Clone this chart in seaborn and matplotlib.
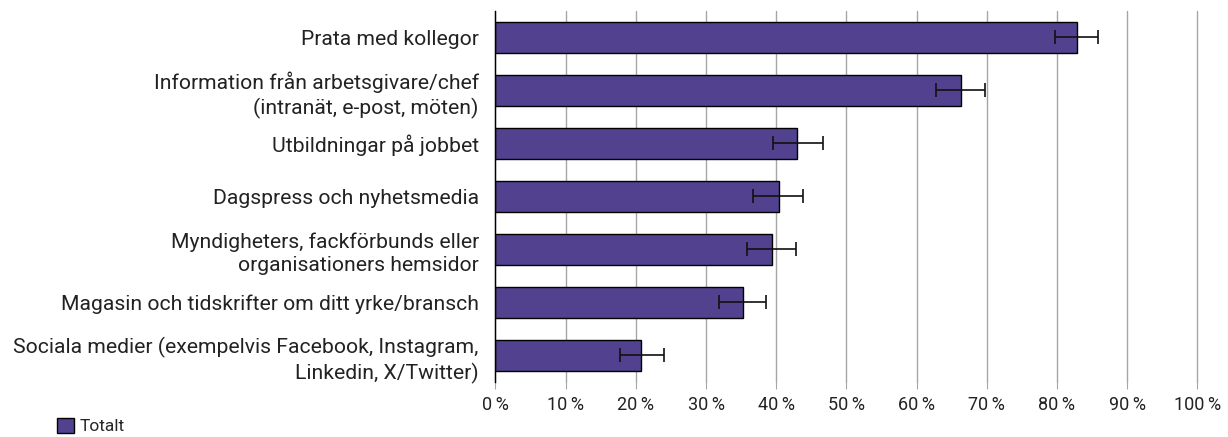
import numpy as np
import pandas as pd
import seaborn as sns
import matplotlib.pyplot as plt
from matplotlib.patches import Patch

categories = [
    "Prata med kollegor",
    "Information från arbetsgivare/chef\n(intranät, e-post, möten)",
    "Utbildningar på jobbet",
    "Dagspress och nyhetsmedia",
    "Myndigheters, fackförbunds eller\norganisationers hemsidor",
    "Magasin och tidskrifter om ditt yrke/bransch",
    "Sociala medier (exempelvis Facebook, Instagram,\nLinkedin, X/Twitter)",
]
values = [82.8, 66.3, 43.0, 40.4, 39.4, 35.3, 20.8]
err_low = [79.7, 62.8, 39.6, 36.7, 35.9, 31.8, 17.7]
err_high = [85.9, 69.8, 46.7, 43.8, 42.8, 38.6, 24.0]
ticks = list(range(0, 101, 10))
tick_labels = [f"{t}\u2009%" for t in ticks]

bar_color = "#52418F"

df = pd.DataFrame({"kategori": categories, "andel": values})

sns.set_style("white")
plt.rcParams["font.family"] = ["Roboto", "DejaVu Sans"]

fig = plt.figure(figsize=(12.28, 4.37), dpi=100)
ax = fig.add_axes([0.4035, 0.126, 0.5715, 0.849])

sns.barplot(data=df, y="kategori", x="andel", orient="h", color=bar_color,
            saturation=1, width=0.6, edgecolor="black", linewidth=1, ax=ax, zorder=3)

vals = np.array(values)
xerr = [vals - np.array(err_low), np.array(err_high) - vals]
ax.errorbar(vals, np.arange(len(values)), xerr=xerr, fmt="none", ecolor="#111111",
            elinewidth=1.2, capsize=5, capthick=1.2, zorder=4)

ax.set_xlim(0, 100)
ax.set_ylim(len(values) - 0.5, -0.5)
ax.set_xticks(ticks)
ax.set_xticklabels(tick_labels, fontsize=13, color="#222222")
ax.tick_params(axis="y", labelsize=15.2, length=0, pad=12, labelcolor="#222222")
ax.tick_params(axis="x", length=5, color="#A6A6A6", pad=5, bottom=True)
for lab in ax.get_yticklabels():
    lab.set_linespacing(1.3)
ax.set_xlabel("")
ax.set_ylabel("")
ax.xaxis.grid(True, color="#A6A6A6", linewidth=1, zorder=0)
for gl in ax.get_xgridlines():
    gl.set_clip_on(False)
ax.set_axisbelow(True)
for s in ["top", "right", "bottom"]:
    ax.spines[s].set_visible(False)
ax.spines["left"].set_color("black")
ax.spines["left"].set_linewidth(1)
ax.spines["left"].set_zorder(5)

handle = Patch(facecolor=bar_color, edgecolor="black", linewidth=1)
fig.legend([handle], ["Totalt"], loc="lower left", bbox_to_anchor=(0.034, -0.03),
           frameon=False, fontsize=12.5, handlelength=0.95, handleheight=0.95,
           handletextpad=0.35)

fig.savefig("out.png", dpi=100)
